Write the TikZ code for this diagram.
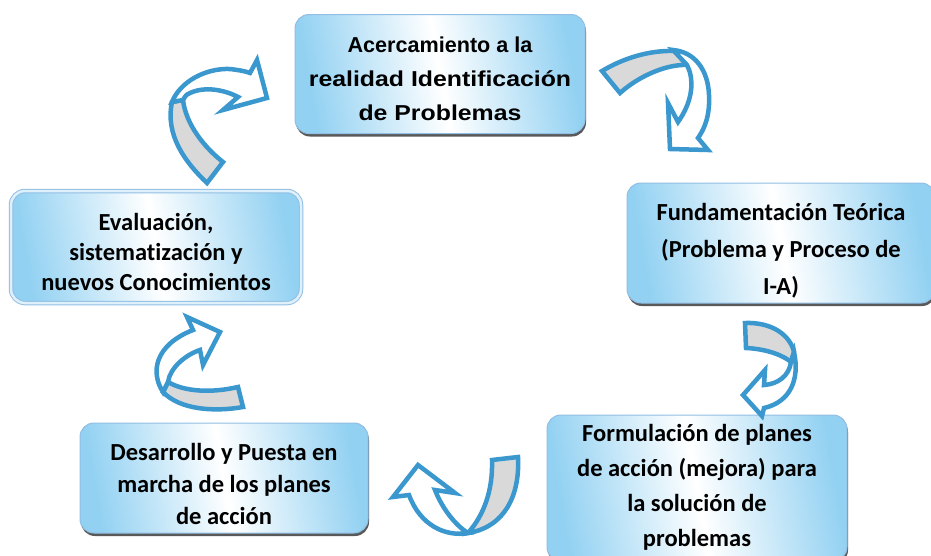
\documentclass[tikz,border=0pt]{standalone}
\usepackage{fontspec}
\usepackage{graphicx}
\setmainfont{Carlito}[Ligatures=NoCommon]
\newfontfamily\arialfont{Liberation Sans}
\usetikzlibrary{shadows}

\definecolor{boxblue}{RGB}{146,209,242}
\definecolor{boxedge}{RGB}{145,190,228}
\definecolor{arrowblue}{RGB}{58,152,207}
\definecolor{backgrey}{RGB}{217,217,217}

\tikzset{
  stage/.style={rectangle, rounded corners=14pt, draw=boxedge, line width=1pt,
    left color=boxblue, right color=boxblue, middle color=white, shading angle=100},
  stagetext/.style={align=center, inner sep=0pt, font=\bfseries\fontsize{24.5}{35}\selectfont},
  shadowed/.style={drop shadow={shadow xshift=1pt, shadow yshift=-3pt, fill=black!65, opacity=1}},
  frontface/.style={draw=arrowblue, line width=4.5pt, fill=white},
  backface/.style={draw=arrowblue, line width=4.5pt, fill=backgrey},
}

\begin{document}
\begin{tikzpicture}[x=1pt,y=-1pt]

      \useasboundingbox[fill=white] (0,0) rectangle (931,555);

      % the five stages
      \node[stage, shadowed, minimum width=290pt, minimum height=119pt] (acerc) at (440,74) {};
      \node[stage, shadowed, minimum width=308pt, minimum height=120pt] (fund) at (781,243) {};
      \node[stage, shadowed, minimum width=300pt, minimum height=146pt] (formul) at (697,488) {};
      \node[stage, shadowed, minimum width=288pt, minimum height=110pt] (desarr) at (224,478) {};
      \node[stage, double=boxblue!30, double distance=2.5pt,
        minimum width=290pt, minimum height=112pt] (evalua) at (156,247) {};

      \node[stagetext, font=\arialfont\bfseries\fontsize{21.6}{34}\selectfont] (acerc-txt)
        at ([yshift=-5pt]acerc.center)
        {Acercamiento a la\\\scalebox{1.15}[1]{realidad Identificación}\\\scalebox{1.15}[1]{de Problemas}};
      \node[stagetext, font=\bfseries\fontsize{24.5}{37}\selectfont] (fund-txt)
        at ([yshift=-8pt]fund.center)
        {Fundamentación Teórica\\(Problema y Proceso de\\I-A)};
      \node[stagetext] (formul-txt) at ([yshift=1pt]formul.center)
        {Formulación de planes\\de acción (mejora) para\\la solución de\\problemas};
      \node[stagetext, font=\bfseries\fontsize{24.5}{32}\selectfont] (desarr-txt)
        at ([yshift=-6pt]desarr.center)
        {Desarrollo y Puesta en\\marcha de los planes\\de acción};
      \node[stagetext, font=\bfseries\fontsize{24.5}{30}\selectfont] (evalua-txt)
        at ([yshift=-5pt]evalua.center)
        {Evaluación,\\sistematización y\\nuevos Conocimientos};

      % curved arrows: back face first, then front face
      % acerc -> fund
      \draw[backface] (602,71) .. controls (622,59) and (648,50) .. (675,51)
        -- (687,65) .. controls (668,64) and (640,75) .. (620,93) -- cycle;
      \draw[frontface] (673,50) .. controls (695,52) and (708,70) .. (709,95)
        .. controls (710,115) and (705,128) .. (698,138) -- (708,150) -- (670,149)
        -- (668,103) -- (678,122) .. controls (688,108) and (693,92) .. (691,78)
        .. controls (690,72) .. (687,65) -- cycle;

      % fund -> formul
      \draw[backface] (745,323) .. controls (772,322) and (790,335) .. (794,352)
        -- (791,362) .. controls (784,356) and (768,349) .. (746,348) -- cycle;
      \draw[frontface] (794,352) .. controls (800,380) and (790,402) .. (764,408)
        -- (762,416) -- (743,395) -- (765,370) -- (764,385)
        .. controls (778,384) and (789,376) .. (791,362) -- cycle;

      % formul -> desarr
      \draw[backface] (492,460) -- (518,457) .. controls (520,495) and (505,527) .. (468,533)
        .. controls (484,515) and (493,490) .. (492,460) -- cycle;
      \draw[frontface] (468,533) .. controls (445,537) and (420,525) .. (409,495)
        -- (393,497) -- (418,465) -- (455,493) -- (435,490)
        .. controls (442,508) and (455,525) .. (468,533) -- cycle;

      % desarr -> evalua
      \draw[backface] (238,387) -- (243,407) .. controls (215,412) and (180,410) .. (163,392)
        -- (168,382) .. controls (185,392) and (212,393) .. (238,387) -- cycle;
      \draw[frontface] (163,392) .. controls (150,372) and (155,345) .. (193,330)
        -- (187,317) -- (220,332) -- (203,365) -- (200,350)
        .. controls (185,355) and (170,368) .. (168,382) -- cycle;

      % evalua -> acerc
      \draw[backface] (207,183) .. controls (185,162) and (165,135) .. (172,102)
        -- (183,100) .. controls (186,125) and (205,148) .. (223,162) -- cycle;
      \draw[frontface] (172,102) .. controls (180,82) and (205,68) .. (230,69)
        .. controls (238,70) and (245,71) .. (250,73) -- (257,60) -- (267,98)
        -- (223,110) -- (238,97) .. controls (225,90) and (205,86) .. (190,93)
        .. controls (186,95) .. (183,100) -- cycle;

    \end{tikzpicture}
\end{document}
